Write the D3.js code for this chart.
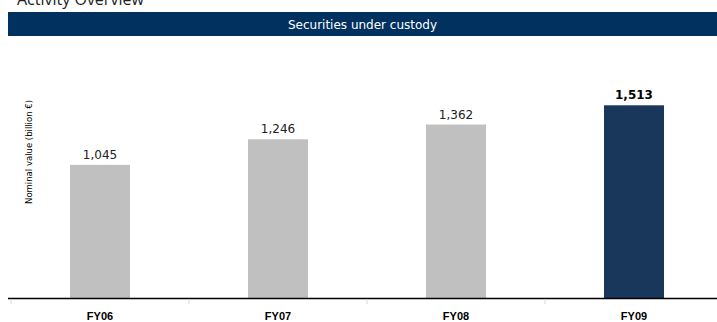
<!DOCTYPE html>
<html>
<head>
<meta charset="utf-8">
<script src="https://cdn.jsdelivr.net/npm/d3@7"></script>
<style>
  html, body { margin: 0; padding: 0; background: #fff; }
  svg { display: block; }
</style>
</head>
<body>
<svg id="chart" width="717" height="322"></svg>
<script>
// Securities under custody, nominal value in billion €
const categories = ["FY06", "FY07", "FY08", "FY09"];
const values = [1045, 1246, 1362, 1513];
const highlight = ["FY09"];

const pageTitle = "Activity Overview";
const bannerTitle = "Securities under custody";
const yTitle = "Nominal value (billion €)";

const W = 717, H = 322;
const svg = d3.select("#chart");

const x = d3.scaleBand()
  .domain(categories)
  .range([11, 723])
  .paddingInner(0.663)
  .paddingOuter(0.3315);

const y = d3.scaleLinear()
  .domain([0, 1900])
  .range([298, 56]);

// Page heading (runs off the top edge)
svg.append("text")
  .attr("x", 17).attr("y", 5)
  .attr("font-family", "Open Sans, Noto Sans, sans-serif")
  .attr("font-size", 16)
  .attr("fill", "#222")
  .text(pageTitle);

// Title banner
svg.append("rect")
  .attr("x", 8).attr("y", 12)
  .attr("width", W - 8).attr("height", 24)
  .attr("fill", "#01315f");

svg.append("text")
  .attr("x", (8 + W) / 2).attr("y", 29)
  .attr("text-anchor", "middle")
  .attr("font-family", "DejaVu Sans, Verdana, sans-serif")
  .attr("font-size", 12)
  .attr("fill", "#fff")
  .text(bannerTitle);

// Bars
svg.append("g").selectAll("rect")
  .data(categories)
  .join("rect")
  .attr("x", d => x(d))
  .attr("width", x.bandwidth())
  .attr("y", (d, i) => y(values[i]))
  .attr("height", (d, i) => y(0) - y(values[i]))
  .attr("fill", d => highlight.includes(d) ? "#19365b" : "#c0c0c0");

// Value labels
svg.append("g").selectAll("text")
  .data(categories)
  .join("text")
  .attr("x", d => x(d) + x.bandwidth() / 2)
  .attr("y", (d, i) => y(values[i]) - 6)
  .attr("text-anchor", "middle")
  .attr("font-family", "DejaVu Sans, Verdana, sans-serif")
  .attr("font-size", 12)
  .attr("font-weight", d => highlight.includes(d) ? "bold" : "normal")
  .attr("fill", d => highlight.includes(d) ? "#000" : "#222")
  .text((d, i) => d3.format(",")(values[i]));

// Category axis
const xAxis = svg.append("g")
  .attr("transform", `translate(0,${y(0)})`)
  .call(d3.axisBottom(x).tickSize(0).tickPadding(14));

xAxis.select(".domain")
  .attr("d", `M8,0.5H${W}`)
  .attr("stroke", "#000")
  .attr("stroke-width", 1.5);

xAxis.selectAll(".tick text")
  .attr("font-family", "Liberation Sans, Arial, sans-serif")
  .attr("font-size", 11)
  .attr("font-weight", "bold")
  .attr("fill", "#000");

// Separator ticks between categories
const seps = [x.range()[0]].concat(categories.slice(1).map(c => x(c) - x.step() * x.paddingInner() / 2));
svg.append("g").selectAll("line")
  .data(seps)
  .join("line")
  .attr("x1", d => d).attr("x2", d => d)
  .attr("y1", y(0) + 1).attr("y2", y(0) + 6)
  .attr("stroke", "#d9d9d9")
  .attr("stroke-width", 1);

// Y axis title
svg.append("text")
  .attr("transform", `translate(32,${152}) rotate(-90)`)
  .attr("text-anchor", "middle")
  .attr("font-family", "DejaVu Sans, Verdana, sans-serif")
  .attr("font-size", 8.5)
  .attr("fill", "#000")
  .text(yTitle);
</script>
</body>
</html>
